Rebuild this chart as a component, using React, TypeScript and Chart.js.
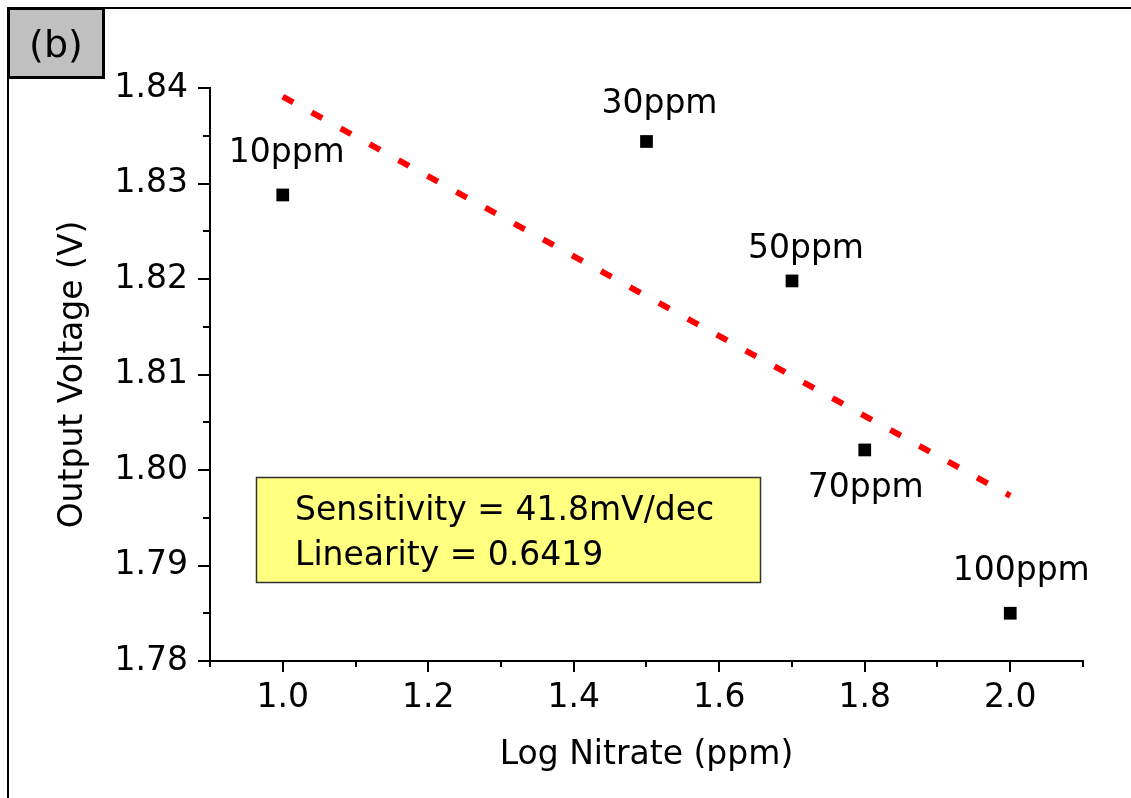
import React, { useEffect, useRef } from 'react';
import { Chart, registerables } from 'chart.js';

Chart.register(...registerables);

// ---- data ----
const concentrations = ['10ppm', '30ppm', '50ppm', '70ppm', '100ppm'];
const logNitrate = [1.0, 1.5, 1.7, 1.8, 2.0];
const outputVoltage = [1.8288, 1.8344, 1.8198, 1.8021, 1.785];

const fitX = [1.0, 2.0];
const fitY = [1.8391, 1.7973];

const xTickValues = [0.9, 1.0, 1.1, 1.2, 1.3, 1.4, 1.5, 1.6, 1.7, 1.8, 1.9, 2.0, 2.1];
const xTickLabels = ['', '1.0', '', '1.2', '', '1.4', '', '1.6', '', '1.8', '', '2.0', ''];
const yTickValues = [1.78, 1.785, 1.79, 1.795, 1.8, 1.805, 1.81, 1.815, 1.82, 1.825, 1.83, 1.835, 1.84];
const yTickLabels = ['1.78', '', '1.79', '', '1.80', '', '1.81', '', '1.82', '', '1.83', '', '1.84'];

const xTitle = 'Log Nitrate (ppm)';
const yTitle = 'Output Voltage (V)';
const panelLabel = '(b)';
const annotationLines = ['Sensitivity = 41.8mV/dec', 'Linearity = 0.6419'];

// ---- layout (pixel offsets of point labels from their points) ----
const labelOffsets: [number, number][] = [
  [4, -33],
  [13, -28],
  [14, -23],
  [1, 47],
  [11, -33],
];

const FONT = "'DejaVu Sans', 'Liberation Sans', Arial, sans-serif";

const decorPlugin = {
  id: 'decor',
  beforeDraw(chart: any) {
    const { ctx } = chart;
    ctx.save();
    ctx.fillStyle = '#ffffff';
    ctx.fillRect(0, 0, chart.width, chart.height);
    ctx.restore();
  },
  afterDraw(chart: any) {
    const { ctx, chartArea } = chart;
    const xs = chart.scales.x;
    const ys = chart.scales.y;
    ctx.save();

    // figure frame (top and left)
    ctx.fillStyle = '#000';
    ctx.fillRect(7, 7, chart.width - 7, 2);
    ctx.fillRect(7, 7, 2, chart.height - 7);

    // panel label box
    ctx.fillStyle = '#c0c0c0';
    ctx.fillRect(8, 8, 96, 70);
    ctx.strokeStyle = '#000';
    ctx.lineWidth = 3;
    ctx.strokeRect(8.5, 8.5, 95, 69);
    ctx.fillStyle = '#000';
    ctx.font = `38px ${FONT}`;
    ctx.textAlign = 'center';
    ctx.textBaseline = 'alphabetic';
    ctx.fillText(panelLabel, 56, 57);

    // axes lines
    ctx.strokeStyle = '#000';
    ctx.lineWidth = 2;
    ctx.lineCap = 'square';
    ctx.beginPath();
    ctx.moveTo(chartArea.left, chartArea.top);
    ctx.lineTo(chartArea.left, chartArea.bottom);
    ctx.lineTo(chartArea.right, chartArea.bottom);
    ctx.stroke();
    ctx.lineCap = 'butt';

    // tick marks
    ctx.beginPath();
    xTickValues.forEach((v, i) => {
      const px = Math.round(xs.getPixelForValue(v));
      const len = xTickLabels[i] ? 11 : 6;
      ctx.moveTo(px, chartArea.bottom);
      ctx.lineTo(px, chartArea.bottom + len);
    });
    yTickValues.forEach((v, i) => {
      const py = Math.round(ys.getPixelForValue(v));
      const len = yTickLabels[i] ? 12 : 7;
      ctx.moveTo(chartArea.left, py);
      ctx.lineTo(chartArea.left - len, py);
    });
    ctx.stroke();

    // point labels
    ctx.fillStyle = '#000';
    ctx.font = `33px ${FONT}`;
    ctx.textAlign = 'center';
    ctx.textBaseline = 'alphabetic';
    concentrations.forEach((label, i) => {
      const px = xs.getPixelForValue(logNitrate[i]);
      const py = ys.getPixelForValue(outputVoltage[i]);
      ctx.fillText(label, px + labelOffsets[i][0], py + labelOffsets[i][1]);
    });

    // annotation box
    const bx = chartArea.left + 46;
    const by = chartArea.top + 389;
    const bw = 504;
    const bh = 105;
    ctx.fillStyle = '#ffff80';
    ctx.fillRect(bx, by, bw, bh);
    ctx.strokeStyle = '#333';
    ctx.lineWidth = 1.5;
    ctx.strokeRect(bx + 0.5, by + 0.5, bw, bh);
    ctx.fillStyle = '#000';
    ctx.textAlign = 'left';
    ctx.font = `33px ${FONT}`;
    ctx.fillText(annotationLines[0], bx + 39, by + 43);
    ctx.fillText(annotationLines[1], bx + 39, by + 88);

    ctx.restore();
  },
};

export default function App() {
  const ref = useRef<HTMLCanvasElement>(null);

  useEffect(() => {
    const canvas = ref.current;
    if (!canvas) return;
    const chart = new Chart(canvas, {
      type: 'scatter',
      data: {
        datasets: [
          {
            label: 'Measured',
            data: logNitrate.map((x, i) => ({ x, y: outputVoltage[i] })),
            pointStyle: 'rect',
            pointRadius: 9,
            pointBorderWidth: 0,
            backgroundColor: '#000',
            borderColor: '#000',
            showLine: false,
          },
          {
            label: 'Fit',
            data: fitX.map((x, i) => ({ x, y: fitY[i] })),
            showLine: true,
            borderColor: '#ff0000',
            borderWidth: 6,
            borderDash: [12, 21],
            borderCapStyle: 'butt',
            pointRadius: 0,
            fill: false,
          },
        ],
      } as any,
      options: {
        animation: false,
        responsive: false,
        events: [],
        layout: { padding: { left: 0, right: 48, top: 88, bottom: 0 } },
        plugins: {
          legend: { display: false },
          tooltip: { enabled: false },
        },
        scales: {
          x: {
            type: 'linear',
            min: 0.9,
            max: 2.1,
            grid: { display: false, drawTicks: false },
            border: { display: false },
            afterBuildTicks: (scale: any) => {
              scale.ticks = xTickValues.map((value) => ({ value }));
            },
            afterFit: (scale: any) => {
              scale.height = 137;
            },
            ticks: {
              autoSkip: false,
              maxRotation: 0,
              padding: 18,
              color: '#000',
              font: { family: FONT, size: 33 },
              callback: (_v: any, index: number) => xTickLabels[index],
            },
            title: {
              display: true,
              text: xTitle,
              color: '#000',
              font: { family: FONT, size: 33 },
              padding: { top: 0, bottom: 23 },
            },
          },
          y: {
            type: 'linear',
            min: 1.78,
            max: 1.84,
            grid: { display: false, drawTicks: false },
            border: { display: false },
            afterBuildTicks: (scale: any) => {
              scale.ticks = yTickValues.map((value) => ({ value }));
            },
            afterFit: (scale: any) => {
              scale.width = 210;
            },
            ticks: {
              autoSkip: false,
              padding: 22,
              color: '#000',
              font: { family: FONT, size: 33 },
              callback: (_v: any, index: number) => yTickLabels[index],
            },
            title: {
              display: true,
              text: yTitle,
              color: '#000',
              font: { family: FONT, size: 33 },
              padding: { top: 54, bottom: 0 },
            },
          },
        },
      } as any,
      plugins: [decorPlugin],
    });
    return () => chart.destroy();
  }, []);

  return (
    <div style={{ position: 'absolute', left: 0, top: 0, width: 1131, height: 798, background: '#fff' }}>
      <canvas ref={ref} width={1131} height={798} style={{ display: 'block', width: 1131, height: 798 }} />
    </div>
  );
}
